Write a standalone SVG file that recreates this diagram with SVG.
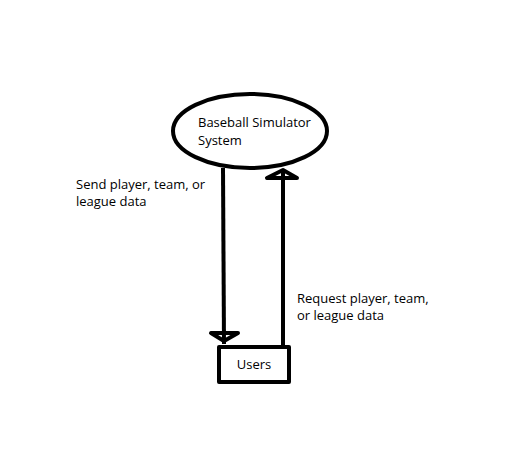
<svg xmlns="http://www.w3.org/2000/svg" width="517" height="457" viewBox="0 0 517 457">
<style>
text{font-family:"Open Sans","Noto Sans","Liberation Sans",sans-serif;font-size:13px;fill:#000}
.s{fill:none;stroke:#000;stroke-width:4;stroke-linejoin:round}
</style>
<rect width="517" height="457" fill="#fff"/>
<g id="connectors">
<g id="send">
<line class="s" x1="223" y1="168" x2="224" y2="344"/>
<path class="s" d="M211 333 L238 333 L224 341 Z"/>
</g>
<g id="request">
<line class="s" x1="283" y1="347" x2="283" y2="172"/>
<path class="s" d="M267 178 L297 178 L283 170 Z"/>
</g>
<text x="76" y="189">Send player, team, or</text>
<text x="76" y="206">league data</text>
<text x="297" y="303">Request player, team,</text>
<text x="297" y="320">or league data</text>
</g>
<g id="system">
<ellipse class="s" cx="250" cy="131" rx="77" ry="37" stroke-width="4.5"/>
<text x="198" y="127">Baseball Simulator</text>
<text x="198" y="145">System</text>
</g>
<g id="users">
<rect class="s" x="219" y="347" width="70" height="35"/>
<text x="254" y="369" text-anchor="middle">Users</text>
</g>
</svg>
